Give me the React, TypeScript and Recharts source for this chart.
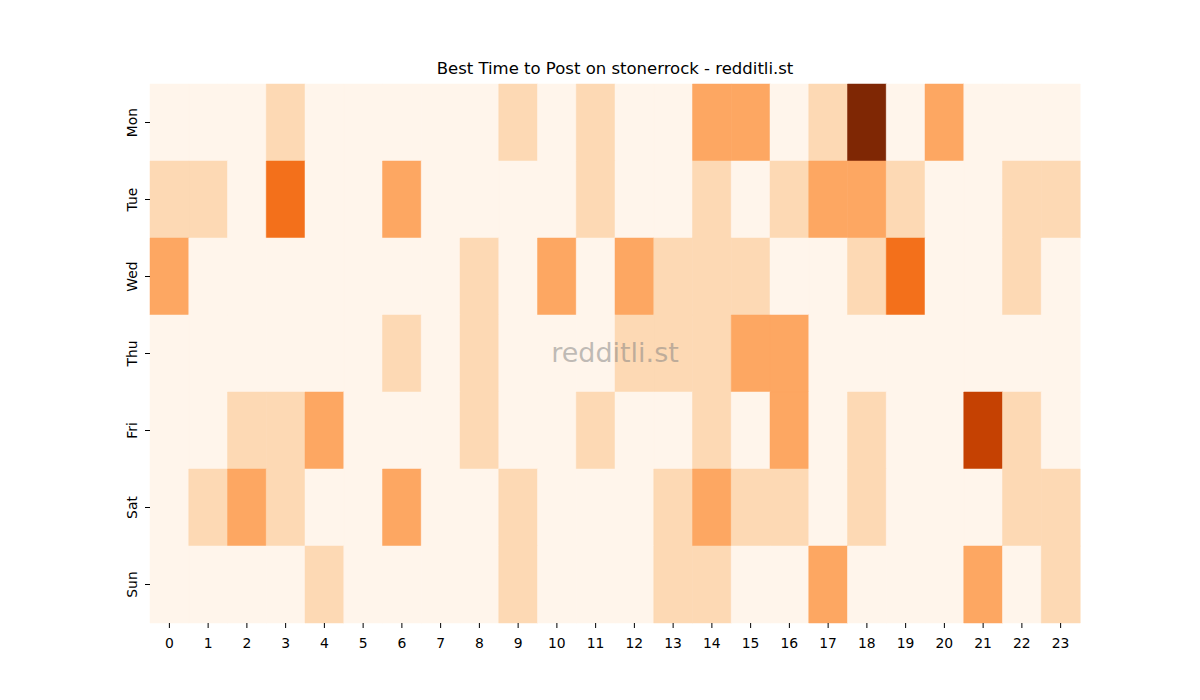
import React from 'react';
import { BarChart, Bar, Cell, XAxis, YAxis } from 'recharts';

const hours = ['0', '1', '2', '3', '4', '5', '6', '7', '8', '9', '10', '11', '12', '13', '14', '15', '16', '17', '18', '19', '20', '21', '22', '23'];
const days = ['Mon', 'Tue', 'Wed', 'Thu', 'Fri', 'Sat', 'Sun'];

// post counts per hour
const mon = [0, 0, 0, 1, 0, 0, 0, 0, 0, 1, 0, 1, 0, 0, 2, 2, 0, 1, 5, 0, 2, 0, 0, 0];
const tue = [1, 1, 0, 3, 0, 0, 2, 0, 0, 0, 0, 1, 0, 0, 1, 0, 1, 2, 2, 1, 0, 0, 1, 1];
const wed = [2, 0, 0, 0, 0, 0, 0, 0, 1, 0, 2, 0, 2, 1, 1, 1, 0, 0, 1, 3, 0, 0, 1, 0];
const thu = [0, 0, 0, 0, 0, 0, 1, 0, 1, 0, 0, 0, 1, 1, 1, 2, 2, 0, 0, 0, 0, 0, 0, 0];
const fri = [0, 0, 1, 1, 2, 0, 0, 0, 1, 0, 0, 1, 0, 0, 1, 0, 2, 0, 1, 0, 0, 4, 1, 0];
const sat = [0, 1, 2, 1, 0, 0, 2, 0, 0, 1, 0, 0, 0, 1, 2, 1, 1, 0, 1, 0, 0, 0, 1, 1];
const sun = [0, 0, 0, 0, 1, 0, 0, 0, 0, 1, 0, 0, 0, 1, 1, 0, 0, 2, 0, 0, 0, 2, 0, 1];

const counts = [mon, tue, wed, thu, fri, sat, sun];

// Oranges colormap sampled at 0, .2, .4, .6, .8, 1
const palette = ['#fff5eb', '#fdd9b4', '#fda762', '#f3701b', '#c54102', '#7f2704'];

const yTicks = [0.5, 1.5, 2.5, 3.5, 4.5, 5.5, 6.5];

// every cell stacks with height 1, colour comes from counts
const chartData = hours.map((hour) => {
  const row: any = { hour };
  days.forEach((d) => {
    row[d] = 1;
  });
  return row;
});

const FONT = '"DejaVu Sans", sans-serif';

const DayTick = ({ x, y, payload }: any) => {
  const idx = Math.floor(payload.value);
  const tx = x - 6;
  return (
    <text
      x={tx}
      y={y}
      transform={`rotate(-90, ${tx}, ${y})`}
      textAnchor="middle"
      fontSize={13.9}
      fontFamily={FONT}
      fill="#000"
    >
      {days[idx]}
    </text>
  );
};

const HourTick = ({ x, y, payload }: any) => (
  <text x={x} y={y + 18} textAnchor="middle" fontSize={13.9} fontFamily={FONT} fill="#000">
    {payload.value}
  </text>
);

const App: React.FC = () => {
  return (
    <div style={{ position: 'fixed', left: 0, top: 0, width: 1200, height: 700, background: '#fff', fontFamily: FONT }}>
      <div
        style={{
          position: 'absolute',
          left: 150,
          width: 930,
          top: 59,
          textAlign: 'center',
          fontSize: 16.5,
          color: '#000',
          lineHeight: '20px',
        }}
      >
        Best Time to Post on stonerrock - redditli.st
      </div>
      <BarChart
        width={1200}
        height={700}
        data={chartData}
        margin={{ top: 84, right: 120, left: 110, bottom: 47 }}
        barCategoryGap={0}
        barGap={0}
      >
        <XAxis
          dataKey="hour"
          height={30}
          axisLine={false}
          tickSize={5}
          tickLine={{ stroke: '#000' }}
          tick={<HourTick />}
          interval={0}
        />
        <YAxis
          type="number"
          domain={[0, 7]}
          reversed
          ticks={yTicks}
          width={40}
          axisLine={false}
          tickSize={5}
          tickLine={{ stroke: '#000' }}
          tick={<DayTick />}
          interval={0}
        />
        {days.map((d, di) => (
          <Bar key={d} dataKey={d} stackId="grid" isAnimationActive={false}>
            {hours.map((h, hi) => (
              <Cell
                key={h}
                fill={palette[counts[di][hi]]}
                stroke={palette[counts[di][hi]]}
                strokeWidth={0.5}
              />
            ))}
          </Bar>
        ))}
      </BarChart>
      <div
        style={{
          position: 'absolute',
          left: 150,
          width: 930,
          top: 335,
          textAlign: 'center',
          fontSize: 27,
          color: 'rgba(128,128,128,0.5)',
          lineHeight: '36px',
          pointerEvents: 'none',
        }}
      >
        redditli.st
      </div>
    </div>
  );
};

export default App;
